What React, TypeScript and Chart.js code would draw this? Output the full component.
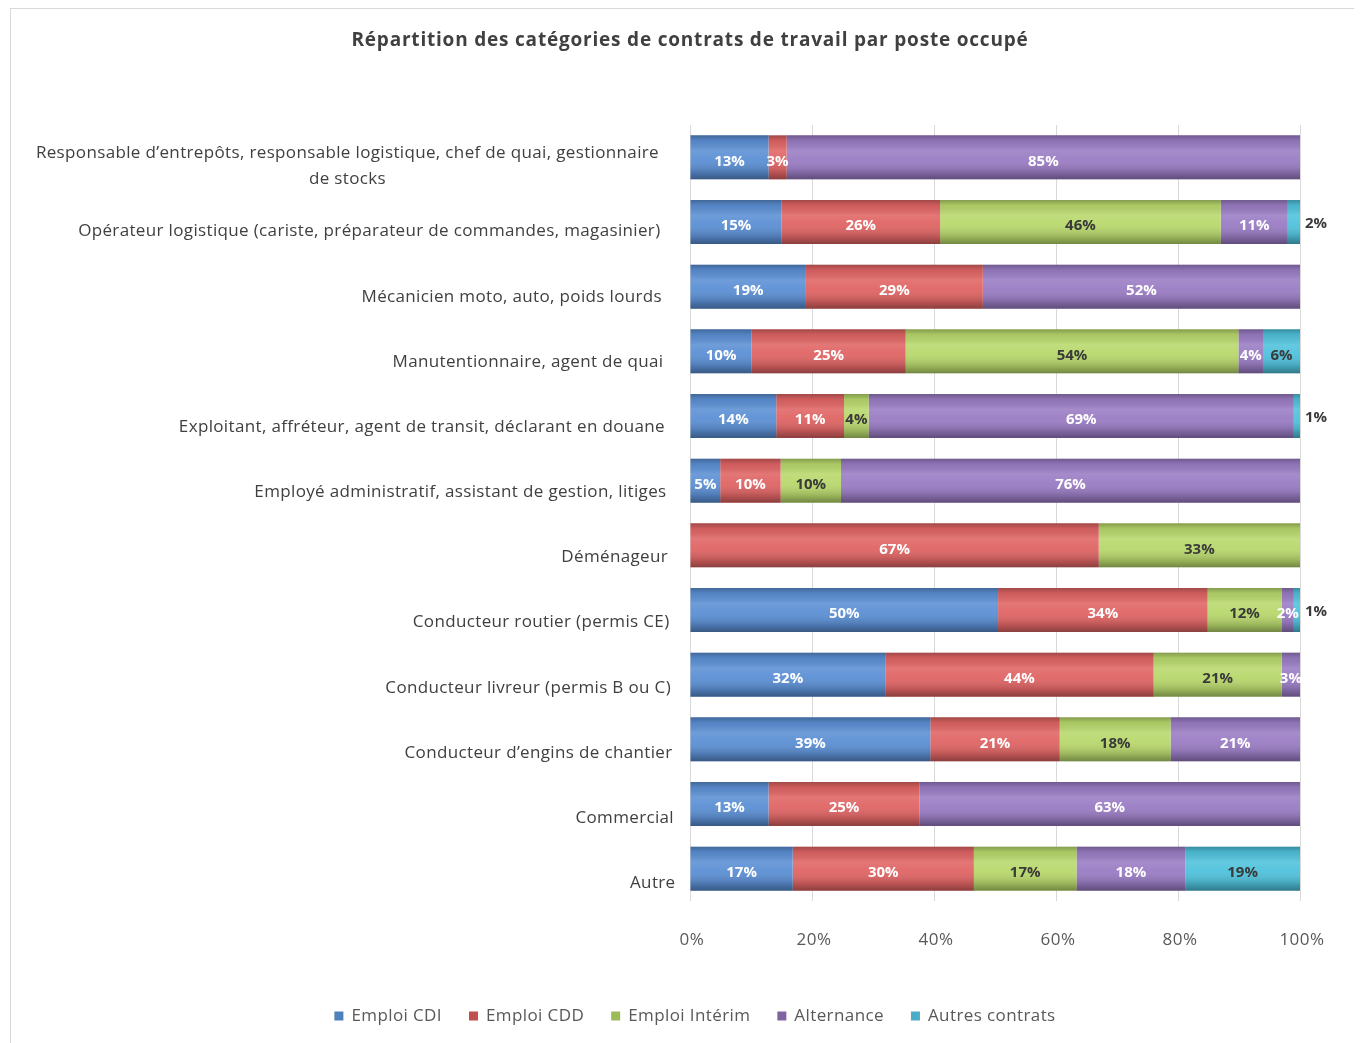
import React, { useEffect, useRef } from "react";
import { Chart, registerables } from "chart.js";

Chart.register(...registerables);

const title = "Répartition des catégories de contrats de travail par poste occupé";

const categories: (string | string[])[] = [
  ["Responsable d’entrepôts, responsable logistique, chef de quai, gestionnaire", "de stocks"],
  "Opérateur logistique (cariste, préparateur de commandes, magasinier)",
  "Mécanicien moto, auto, poids lourds",
  "Manutentionnaire, agent de quai",
  "Exploitant, affréteur, agent de transit, déclarant en douane",
  "Employé administratif, assistant de gestion, litiges",
  "Déménageur",
  "Conducteur routier (permis CE)",
  "Conducteur livreur (permis B ou C)",
  "Conducteur d’engins de chantier",
  "Commercial",
  "Autre",
];

const seriesNames = ["Emploi CDI", "Emploi CDD", "Emploi Intérim", "Alternance", "Autres contrats"];

const cdi = [13, 15, 19, 10, 14, 5, 0, 50, 32, 39, 13, 17];
const cdd = [3, 26, 29, 25, 11, 10, 67, 34, 44, 21, 25, 30];
const interim = [0, 46, 0, 54, 4, 10, 33, 12, 21, 18, 0, 17];
const alternance = [85, 11, 52, 4, 69, 76, 0, 2, 3, 21, 63, 18];
const autres = [0, 2, 0, 6, 1, 0, 0, 1, 0, 0, 0, 19];

const xTicks = [0, 20, 40, 60, 80, 100];

const barColors = ["#5b8fd4", "#e06464", "#b8d86c", "#9a7cc4", "#4fc2dc"];
const legendColors = ["#4F81BD", "#C0504D", "#9BBB59", "#8064A2", "#4BACC6"];
const labelColors = ["#ffffff", "#ffffff", "#3a3a3a", "#ffffff", "#3a3a3a"];

const allSeries = [cdi, cdd, interim, alternance, autres];

export default function App() {
  const ref = useRef<HTMLCanvasElement | null>(null);

  useEffect(() => {
    if (!ref.current) return;
    const totals = categories.map((_, j) => allSeries.reduce((s, arr) => s + arr[j], 0));

    const overlayPlugin = {
      id: "overlayAndLabels",
      afterDatasetsDraw(chart: any) {
        const ctx = chart.ctx;
        const n = categories.length;
        for (let j = 0; j < n; j++) {
          let left = Infinity, right = -Infinity, y = 0, h = 0;
          for (let i = 0; i < allSeries.length; i++) {
            const el = chart.getDatasetMeta(i).data[j] as any;
            if (!el) continue;
            y = el.y; h = el.height;
            if (allSeries[i][j] > 0) {
              left = Math.min(left, el.base, el.x);
              right = Math.max(right, el.base, el.x);
            }
          }
          if (!isFinite(left)) continue;
          const g = ctx.createLinearGradient(0, y - h / 2, 0, y + h / 2);
          g.addColorStop(0, "rgba(0,0,0,0.28)");
          g.addColorStop(0.12, "rgba(0,0,0,0.08)");
          g.addColorStop(0.35, "rgba(255,255,255,0.12)");
          g.addColorStop(0.55, "rgba(255,255,255,0.05)");
          g.addColorStop(0.85, "rgba(0,0,0,0.18)");
          g.addColorStop(1, "rgba(0,0,0,0.38)");
          ctx.save();
          ctx.fillStyle = g;
          ctx.fillRect(left, y - h / 2, right - left, h);
          ctx.restore();
        }
        ctx.save();
        (ctx as any).letterSpacing = "0px";
        ctx.font = "bold 15px 'Open Sans'";
        ctx.textBaseline = "middle";
        for (let j = 0; j < n; j++) {
          let rowEnd = -Infinity;
          for (let i = 0; i < allSeries.length; i++) {
            const el = chart.getDatasetMeta(i).data[j] as any;
            if (el && allSeries[i][j] > 0) rowEnd = Math.max(rowEnd, el.x);
          }
          for (let i = 0; i < allSeries.length; i++) {
            const v = allSeries[i][j];
            if (!v) continue;
            const el = chart.getDatasetMeta(i).data[j] as any;
            const txt = v + "%";
            if (i === 4 && v <= 2) {
              ctx.textAlign = "left";
              ctx.fillStyle = "#3a3a3a";
              ctx.fillText(txt, rowEnd + 5, el.y + 2);
            } else {
              ctx.textAlign = "center";
              ctx.fillStyle = labelColors[i];
              ctx.fillText(txt, (el.x + el.base) / 2, el.y + 4);
            }
          }
        }
        ctx.restore();
      },
      afterDraw(chart: any) {
        const ctx = chart.ctx;
        const yScale = chart.scales.y;
        const xScale = chart.scales.x;
        // title
        ctx.save();
        (ctx as any).letterSpacing = "0.8px";
        ctx.font = "bold 19px 'Open Sans'";
        ctx.fillStyle = "#404040";
        ctx.textBaseline = "middle";
        ctx.textAlign = "center";
        ctx.fillText(title, 679, 32);
        ctx.restore();

        // category labels
        ctx.save();
        (ctx as any).letterSpacing = "0.35px";
        ctx.font = "17px 'Open Sans'";
        ctx.fillStyle = "#404040";
        ctx.textBaseline = "middle";
        ctx.textAlign = "center";
        categories.forEach((c, j) => {
          const lines = Array.isArray(c) ? c : [c];
          const rightEdge = 648 + j * 1.5;
          const maxW = Math.max(...lines.map((l) => ctx.measureText(l).width));
          const cx = rightEdge - maxW / 2;
          const yc = yScale.getPixelForValue(j) + 9 + j * 0.5;
          const lh = 26;
          lines.forEach((l, k) => {
            const yy = yc + (k - (lines.length - 1) / 2) * lh;
            ctx.fillText(l, cx, yy);
          });
        });
        ctx.restore();

        // x tick labels
        ctx.save();
        (ctx as any).letterSpacing = "0.5px";
        ctx.font = "17px 'Open Sans'";
        ctx.fillStyle = "#595959";
        ctx.textBaseline = "middle";
        ctx.textAlign = "center";
        xTicks.forEach((t) => {
          ctx.fillText(t + "%", xScale.getPixelForValue(t) + 2, 931);
        });
        ctx.restore();

        // legend
        ctx.save();
        (ctx as any).letterSpacing = "0.4px";
        ctx.font = "17px 'Open Sans'";
        ctx.textBaseline = "middle";
        ctx.textAlign = "left";
        const box = 9, gapText = 8, gapItem = 27;
        const widths = seriesNames.map((s) => box + gapText + ctx.measureText(s).width);
        const total = widths.reduce((a, b) => a + b, 0) + gapItem * (seriesNames.length - 1);
        let x = 684 - total / 2;
        const ly = 1007;
        seriesNames.forEach((s, i) => {
          ctx.fillStyle = legendColors[i];
          ctx.fillRect(x, ly - box / 2, box, box);
          ctx.fillStyle = "#595959";
          ctx.fillText(s, x + box + gapText, ly);
          x += widths[i] + gapItem;
        });
        ctx.restore();
      },
    };

    const chart = new Chart(ref.current, {
      type: "bar",
      data: {
        labels: categories.map((c) => (Array.isArray(c) ? c.join(" ") : c)),
        datasets: allSeries.map((arr, i) => ({
          label: seriesNames[i],
          data: arr.map((v, j) => (v / totals[j]) * 100),
          backgroundColor: barColors[i],
          borderWidth: 0,
          barPercentage: 0.68,
          categoryPercentage: 1,
        })),
      },
      options: {
        indexAxis: "y",
        animation: false,
        responsive: false,
        layout: { padding: { right: 62, bottom: 142, left: 0, top: 116 } },
        scales: {
          x: {
            stacked: true,
            min: 0,
            max: 100,
            ticks: { display: false, stepSize: 20 },
            grid: { color: "#d9d9d9", drawTicks: false },
            border: { display: false },
          },
          y: {
            stacked: true,
            ticks: { display: false },
            grid: { display: false },
            border: { display: false },
            afterFit: (s: any) => {
              s.width = 679;
            },
          },
        },
        plugins: {
          title: { display: false },
          legend: { display: false },
          tooltip: { enabled: false },
        },
      },
      plugins: [overlayPlugin],
    } as any);

    return () => chart.destroy();
  }, []);

  return (
    <div
      style={{
        marginLeft: 2,
        width: 1352,
        height: 1035,
        borderLeft: "1px solid #d9d9d9",
        borderTop: "1px solid #d9d9d9",
        boxSizing: "border-box",
        background: "#ffffff",
      }}
    >
      <canvas ref={ref} width={1351} height={1034} style={{ display: "block" }} />
    </div>
  );
}
